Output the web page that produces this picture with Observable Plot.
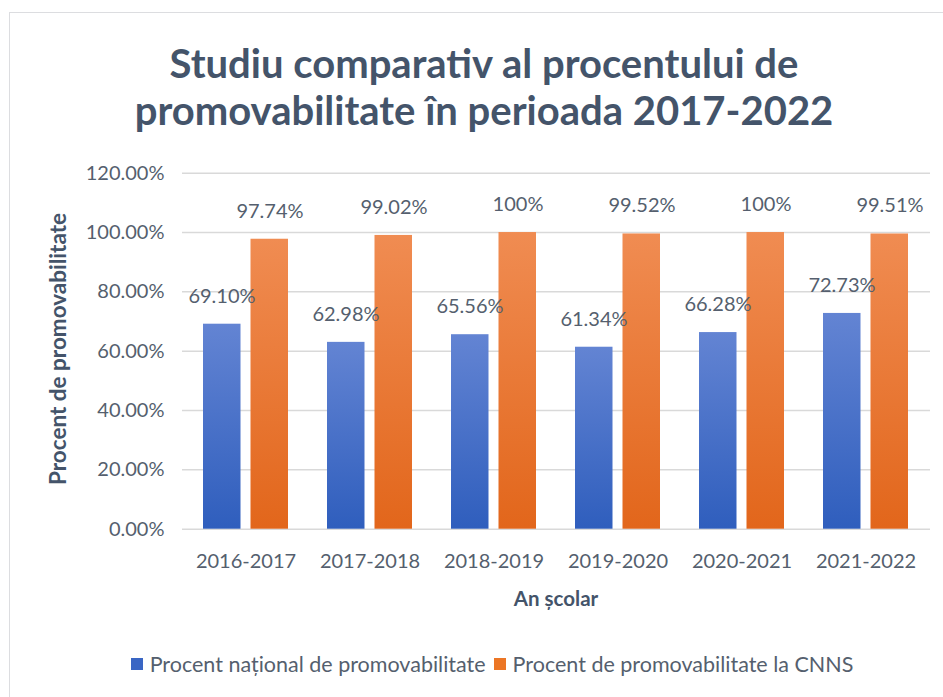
<!DOCTYPE html>
<html>
<head>
<meta charset="utf-8">
<script src="https://cdn.jsdelivr.net/npm/d3@7"></script>
<script src="https://cdn.jsdelivr.net/npm/@observablehq/plot@0.6"></script>
<style>
  html, body { margin: 0; padding: 0; background: #fff; }
  #wrap { position: relative; width: 943px; height: 697px; overflow: hidden; background: #fff; font-family: Lato, "Open Sans", sans-serif; }
  #border { position: absolute; left: 9px; top: 12px; width: 980px; height: 740px; border: 1.5px solid #dcdde0; box-sizing: border-box; }
  #chart { position: absolute; left: 0; top: 0; }
  #title { position: absolute; left: 0; top: 40px; width: 968px; text-align: center; font-weight: 700; font-size: 40px; line-height: 47px; color: #44546a; }
  #xtitle { position: absolute; left: 456px; width: 200px; top: 586px; text-align: center; font-weight: 700; font-size: 20.5px; color: #44546a; }
  #ytitle { position: absolute; left: 57px; top: 349px; transform: translate(-50%, -50%) rotate(-90deg); white-space: nowrap; font-weight: 700; font-size: 22.5px; color: #44546a; }
  #legend { position: absolute; left: 0; width: 984px; top: 651px; display: flex; justify-content: center; align-items: center; font-size: 21.5px; color: #555f6e; white-space: nowrap; }
  .sw { display: inline-block; width: 12px; height: 12px; margin-right: 7px; }
  .item { display: flex; align-items: center; margin: 0 4px; }
</style>
</head>
<body>
<div id="wrap">
  <div id="border"></div>
  <div id="chart"></div>
  <div id="title">Studiu comparativ al procentului de<br>promovabilitate în perioada 2017-2022</div>
  <div id="ytitle">Procent de promovabilitate</div>
  <div id="xtitle">An școlar</div>
  <div id="legend">
    <div class="item"><span class="sw" style="background:#3a66c4"></span>Procent național de promovabilitate</div>
    <div class="item"><span class="sw" style="background:#ec7625"></span>Procent de promovabilitate la CNNS</div>
  </div>
</div>
<script>
// ---- data ----
const years = ["2016-2017", "2017-2018", "2018-2019", "2019-2020", "2020-2021", "2021-2022"];
const national = [69.10, 62.98, 65.56, 61.34, 66.28, 72.73];
const cnns = [97.74, 99.02, 100, 99.52, 100, 99.51];
const nationalLabels = ["69.10%", "62.98%", "65.56%", "61.34%", "66.28%", "72.73%"];
const cnnsLabels = ["97.74%", "99.02%", "100%", "99.52%", "100%", "99.51%"];
const yTicks = [0, 20, 40, 60, 80, 100, 120];
const yTickLabels = ["0.00%", "20.00%", "40.00%", "60.00%", "80.00%", "100.00%", "120.00%"];

const natData = years.map((y, i) => ({year: y, value: national[i], label: nationalLabels[i]}));
const cnnsData = years.map((y, i) => ({year: y, value: cnns[i], label: cnnsLabels[i]}));

const textColor = "#555f6e";

const svg = Plot.plot({
  width: 943,
  height: 697,
  marginLeft: 182,
  marginRight: 13,
  marginTop: 172.7,
  marginBottom: 168.3,
  style: {background: "transparent", fontFamily: "Lato, 'Open Sans', sans-serif", fontSize: "20px", color: textColor},
  x: {
    type: "band",
    domain: years,
    paddingInner: 0.312,
    paddingOuter: 0.152,
    label: null,
    tickSize: 0,
    tickPadding: 25
  },
  y: {
    domain: [0, 120],
    ticks: yTicks,
    tickFormat: d => yTickLabels[yTicks.indexOf(d)],
    label: null,
    tickSize: 0,
    tickPadding: 18,
    grid: false
  },
  marks: [
    Plot.ruleY(yTicks, {stroke: "#d9d9d9", strokeWidth: 1.5}),
    Plot.barY(natData, {x: "year", y: "value", fill: "url(#gradBlue)", insetRight: 47.5}),
    Plot.barY(cnnsData, {x: "year", y: "value", fill: "url(#gradOrange)", insetLeft: 47.5}),
    Plot.text(natData, {x: "year", y: "value", text: "label", dx: -24, dy: -28, fill: textColor, fontSize: 20}),
    Plot.text(cnnsData, {x: "year", y: "value", text: "label", dx: 24, dy: -28, fill: textColor, fontSize: 20})
  ]
});

svg.insertAdjacentHTML("afterbegin", `
<defs>
  <linearGradient id="gradBlue" x1="0" y1="0" x2="0" y2="1">
    <stop offset="0" stop-color="#6384d3"/>
    <stop offset="1" stop-color="#2f5ebd"/>
  </linearGradient>
  <linearGradient id="gradOrange" x1="0" y1="0" x2="0" y2="1">
    <stop offset="0" stop-color="#f08c52"/>
    <stop offset="1" stop-color="#e2661b"/>
  </linearGradient>
</defs>`);

document.getElementById("chart").appendChild(svg);
</script>
</body>
</html>
